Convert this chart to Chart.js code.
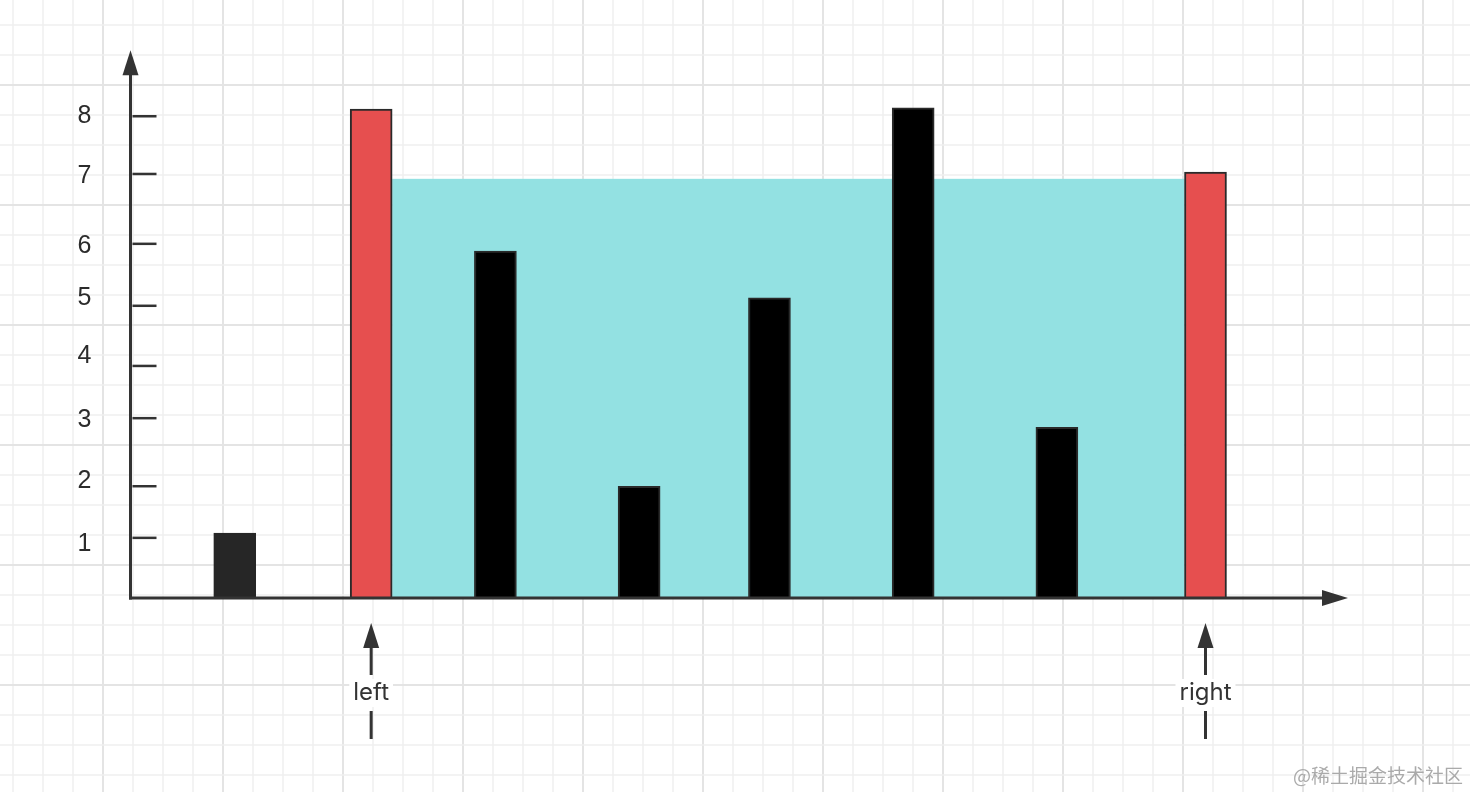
<!DOCTYPE html>
<html lang="pt-BR">
<head>
<meta charset="utf-8">
<title>Container With Most Water</title>
<script src="https://cdn.jsdelivr.net/npm/chart.js@4.4.1/dist/chart.umd.min.js"></script>
<style>
  html, body { margin: 0; padding: 0; background: #fff; }
  canvas { display: block; }
</style>
</head>
<body>
<canvas id="grafico" width="1470" height="792"></canvas>
<script>
// --- Dados ---
const posicoes = [0.86, 1.98, 3.0, 4.18, 5.25, 6.43, 7.61, 8.83]; // posição de cada barra no eixo X
const alturas = [1.07, 8.05, 5.71, 1.84, 4.94, 8.07, 2.81, 7.01];  // altura de cada barra
const nivelAgua = 6.9;   // topo da área azul (água)
const indiceLeft = 1;    // barra apontada por "left"
const indiceRight = 7;   // barra apontada por "right"
const ticksY = [0.99, 1.84, 2.96, 3.82, 4.81, 5.83, 6.98, 7.93]; // marcas do eixo Y
const posRotulosY = [0.91, 1.94, 2.95, 4.0, 4.95, 5.81, 6.96, 7.95]; // onde fica cada número
const rotulosY = ['1', '2', '3', '4', '5', '6', '7', '8'];
const ponteiros = ['left', 'right'];
const marcaDagua = '@稀土掘金技术社区';

// cores das barras: vermelhas nas pontas, pretas no resto
const cores = alturas.map((_, i) =>
  i === indiceLeft || i === indiceRight ? '#e64f4f' : (i === 0 ? '#262626' : '#000000'));
const bordas = alturas.map((_, i) => (i === 0 ? '#262626' : '#2a2a2a'));

// Fundo quadriculado
const fundo = {
  id: 'fundo',
  beforeDraw(chart) {
    const c = chart.ctx;
    const { width, height } = chart;
    c.save();
    c.fillStyle = '#ffffff';
    c.fillRect(0, 0, width, height);
    for (let x = 13, i = 0; x < width; x += 30, i++) {
      c.strokeStyle = i % 4 === 3 ? '#e4e4e4' : '#efefef';
      c.lineWidth = i % 4 === 3 ? 2 : 1.5;
      c.beginPath(); c.moveTo(x, 0); c.lineTo(x, height); c.stroke();
    }
    for (let y = 25, i = 0; y < height; y += 30, i++) {
      c.strokeStyle = i % 4 === 2 ? '#e4e4e4' : '#efefef';
      c.lineWidth = i % 4 === 2 ? 2 : 1.5;
      c.beginPath(); c.moveTo(0, y); c.lineTo(width, y); c.stroke();
    }
    c.restore();
  }
};

// Área de água entre as duas barras vermelhas
const agua = {
  id: 'agua',
  beforeDatasetsDraw(chart) {
    const c = chart.ctx;
    const meta = chart.getDatasetMeta(0);
    const esq = meta.data[indiceLeft];
    const dir = meta.data[indiceRight];
    const sy = chart.scales.y;
    const x1 = esq.x + esq.width / 2;
    const x2 = dir.x - dir.width / 2;
    const y1 = sy.getPixelForValue(nivelAgua);
    const y2 = sy.getPixelForValue(0);
    c.save();
    c.fillStyle = '#93e1e2';
    c.fillRect(x1, y1, x2 - x1, y2 - y1);
    c.restore();
  }
};

function linha(c, x1, y1, x2, y2) {
  c.beginPath(); c.moveTo(x1, y1); c.lineTo(x2, y2); c.stroke();
}
function triangulo(c, pts) {
  c.beginPath();
  c.moveTo(pts[0], pts[1]); c.lineTo(pts[2], pts[3]); c.lineTo(pts[4], pts[5]);
  c.closePath(); c.fill();
}

// Eixos com setas, marcas, números e ponteiros
const eixos = {
  id: 'eixos',
  afterDatasetsDraw(chart) {
    const c = chart.ctx;
    const sx = chart.scales.x, sy = chart.scales.y;
    const x0 = sx.getPixelForValue(0) + 0.5;
    const y0 = sy.getPixelForValue(0);
    const { top, right } = chart.chartArea;
    c.save();
    c.strokeStyle = '#333333';
    c.fillStyle = '#333333';
    c.lineWidth = 3;
    linha(c, x0, y0 + 1.5, x0, top + 20);   // eixo Y
    triangulo(c, [x0, top - 1, x0 - 8, top + 24, x0 + 8, top + 24]);
    linha(c, x0 - 1.5, y0, right - 20, y0); // eixo X
    triangulo(c, [right, y0, right - 26, y0 - 8, right - 26, y0 + 8]);

    c.lineWidth = 2.5;
    ticksY.forEach(v => {
      const y = sy.getPixelForValue(v);
      linha(c, x0 + 2, y, x0 + 26, y);
    });

    c.font = '25px "Liberation Sans", Arial, sans-serif';
    c.textAlign = 'center';
    c.textBaseline = 'middle';
    c.fillStyle = '#2b2b2b';
    rotulosY.forEach((t, i) => c.fillText(t, x0 - 46, sy.getPixelForValue(posRotulosY[i]) + 1));

    // ponteiros "left" e "right"
    const meta = chart.getDatasetMeta(0);
    [indiceLeft, indiceRight].forEach((idx, k) => {
      const x = meta.data[idx].x;
      const ponta = y0 + 25;
      const texto = y0 + 95;
      c.lineWidth = 3;
      c.fillStyle = '#333333';
      triangulo(c, [x, ponta, x - 8, ponta + 25, x + 8, ponta + 25]);
      linha(c, x, ponta + 20, x, texto - 18);
      linha(c, x, texto + 18, x, texto + 46);
      c.font = '24px Inter, "Liberation Sans", sans-serif';
      const w = c.measureText(ponteiros[k]).width;
      c.fillStyle = '#ffffff';
      c.fillRect(x - w / 2 - 4, texto - 14, w + 8, 28);
      c.fillStyle = '#333333';
      c.fillText(ponteiros[k], x, texto);
    });

    // marca d'água
    c.font = '19px "Noto Sans CJK SC", sans-serif';
    c.textAlign = 'right';
    c.fillStyle = '#aaaaaa';
    c.fillText(marcaDagua, chart.width - 7, chart.height - 16);
    c.restore();
  }
};

const ctx = document.getElementById('grafico').getContext('2d');

new Chart(ctx, {
  type: 'bar',
  data: {
    datasets: [{
      data: posicoes.map((x, i) => ({ x: x, y: alturas[i] })),
      backgroundColor: cores,
      borderColor: bordas,
      borderWidth: 2,
      barThickness: 42
    }]
  },
  options: {
    responsive: false,
    animation: false,
    layout: { padding: { left: 130, right: 122, top: 51.25, bottom: 194 } },
    plugins: { legend: { display: false }, tooltip: { enabled: false } },
    scales: {
      x: { type: 'linear', min: 0, max: 10, offset: false, display: false },
      y: { min: 0, max: 9, display: false }
    }
  },
  plugins: [fundo, agua, eixos]
});
</script>
</body>
</html>
